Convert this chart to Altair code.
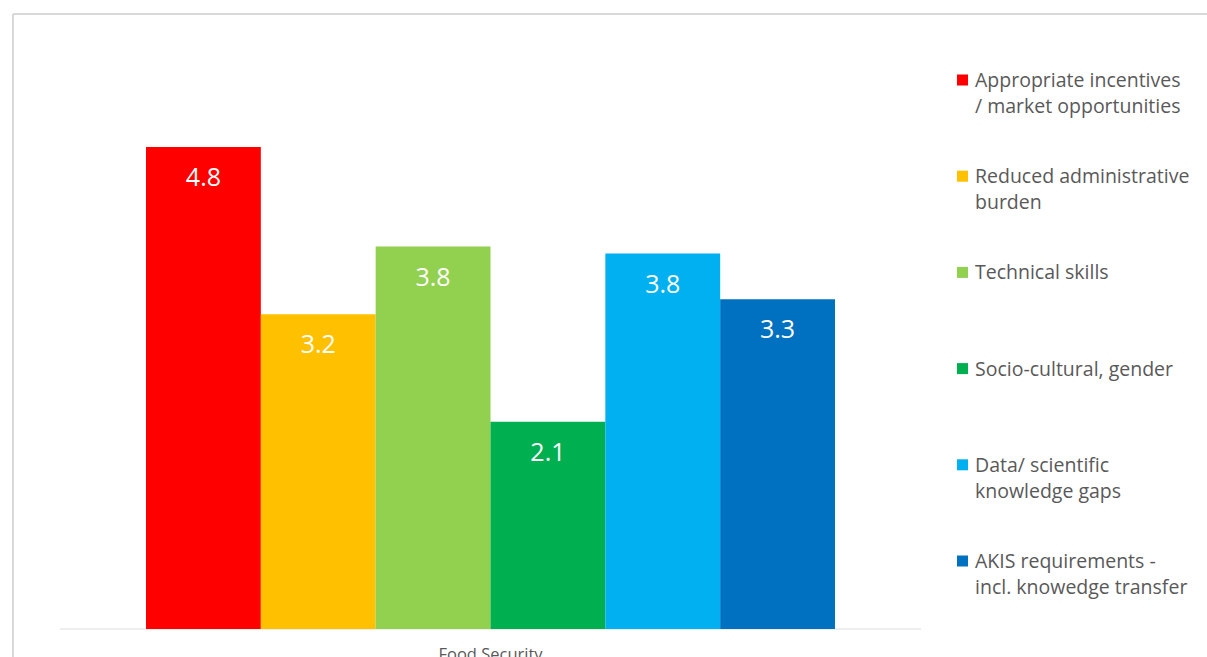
import altair as alt
import pandas as pd

category = "Food Security"
series = [
    "Appropriate incentives / market opportunities",
    "Reduced administrative burden",
    "Technical skills",
    "Socio-cultural, gender",
    "Data/ scientific knowledge gaps",
    "AKIS requirements - incl. knowedge transfer",
]
legend_text = [
    "Appropriate incentives\n/ market opportunities",
    "Reduced administrative\nburden",
    "Technical skills",
    "Socio-cultural, gender",
    "Data/ scientific\nknowledge gaps",
    "AKIS requirements -\nincl. knowedge transfer",
]
values = [4.84, 3.16, 3.84, 2.08, 3.77, 3.31]
colors = ["#FF0000", "#FFC000", "#92D050", "#00B050", "#00B0F0", "#0070C0"]

df = pd.DataFrame({"series": series, "value": values, "legend": legend_text})
one = pd.DataFrame({"category": [category]})

FONT = "Open Sans"
GREY = "#595959"

xscale = alt.Scale(domain=series, range=[133, 822], paddingInner=0, paddingOuter=0)
yscale = alt.Scale(domain=[0, 6], range=[615, 17.4])
cscale = alt.Scale(domain=series, range=colors)

base = alt.Chart(df)

bars = base.mark_bar().encode(
    x=alt.X("series:N", scale=xscale, axis=None, sort=series),
    y=alt.Y("value:Q", scale=yscale, axis=None),
    color=alt.Color("series:N", scale=cscale, legend=None),
)

labels = base.mark_text(
    color="white", font=FONT, fontSize=25, baseline="middle", dy=31
).encode(
    x=alt.X("series:N", scale=xscale, axis=None, sort=series),
    y=alt.Y("value:Q", scale=yscale, axis=None),
    text=alt.Text("value:Q", format=".1f"),
)

lscale = alt.Scale(type="point", domain=series, range=[66, 547], padding=0)

leg_sq = base.mark_square(size=121, opacity=1, filled=True).encode(
    x=alt.value(949.5),
    y=alt.Y("series:N", scale=lscale, axis=None),
    color=alt.Color("series:N", scale=cscale, legend=None),
)

leg_txt = base.mark_text(
    align="left", baseline="alphabetic", dy=7, lineBreak="\n",
    lineHeight=26, fontSize=19.5, font=FONT, color=GREY
).encode(
    x=alt.value(962),
    y=alt.Y("series:N", scale=lscale, axis=None),
    text="legend:N",
)

rule_src = alt.Chart(one)
baseline = rule_src.mark_rule(color="#e8e8e8", strokeWidth=1.5).encode(
    x=alt.value(47), x2=alt.value(908), y=alt.value(615)
)
border_top = rule_src.mark_rule(color="#d9d9d9", strokeWidth=2).encode(
    x=alt.value(0), x2=alt.value(1194), y=alt.value(0)
)
border_left = rule_src.mark_rule(color="#d9d9d9", strokeWidth=2).encode(
    x=alt.value(0), y=alt.value(0), y2=alt.value(643)
)
cat_label = rule_src.mark_text(
    font=FONT, fontSize=16.5, color=GREY, align="center", baseline="alphabetic"
).encode(
    x=alt.value(477.5), y=alt.value(646), text="category:N"
)

chart = alt.layer(
    border_top, border_left, baseline, bars, labels, leg_sq, leg_txt, cat_label
).resolve_scale(
    y="independent"
).properties(
    width=1194, height=643,
    padding={"left": 13, "top": 14, "right": 0, "bottom": 0},
    autosize=alt.AutoSizeParams(type="none"),
    background="white",
).configure_view(stroke=None)

chart.save("out.html", embed_options={"renderer": "svg", "actions": False})
